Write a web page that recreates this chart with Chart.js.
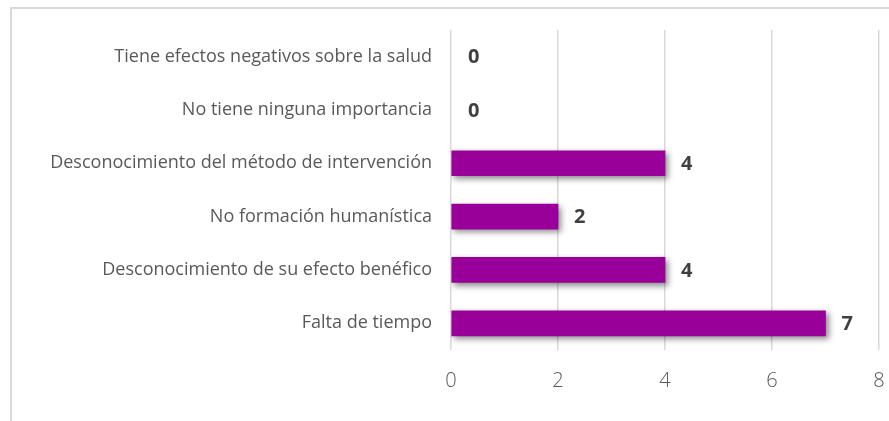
<!DOCTYPE html>
<html lang="es">
<head>
    <meta charset="UTF-8">
    <title>Motivos</title>
    <script src="https://cdn.jsdelivr.net/npm/chart.js"></script>
    <style>
        body {
            margin: 0;
            background-color: #ffffff;
        }
        .marco {
            position: absolute;
            left: 10px;
            top: 7px;
            width: 900px;
            height: 430px;
            border: 2px solid #d9d9d9;
        }
        .grafico {
            position: absolute;
            left: 0;
            top: 0;
            width: 889px;
            height: 421px;
        }
    </style>
</head>
<body>

<div class="marco"></div>
<div class="grafico">
    <canvas id="motivosChart" width="889" height="421"></canvas>
</div>

<script>
    const categorias = [
        'Tiene efectos negativos sobre la salud',
        'No tiene ninguna importancia',
        'Desconocimiento del método de intervención',
        'No formación humanística',
        'Desconocimiento de su efecto benéfico',
        'Falta de tiempo'
    ];
    const valores = [0, 0, 4, 2, 4, 7];
    const marcasEje = [0, 2, 4, 6, 8];

    // sombra de las barras
    const sombraBarras = {
        id: 'sombraBarras',
        beforeDatasetDraw(chart) {
            const ctx = chart.ctx;
            ctx.save();
            ctx.shadowColor = 'rgba(0, 0, 0, 0.45)';
            ctx.shadowBlur = 6;
            ctx.shadowOffsetX = 3;
            ctx.shadowOffsetY = 3;
        },
        afterDatasetDraw(chart) {
            chart.ctx.restore();
        }
    };

    // etiquetas de valor al final de cada barra
    const etiquetasValor = {
        id: 'etiquetasValor',
        afterDatasetsDraw(chart) {
            const ctx = chart.ctx;
            const meta = chart.getDatasetMeta(0);
            ctx.save();
            ctx.font = 'bold 20px "Open Sans"';
            ctx.fillStyle = '#404040';
            ctx.textAlign = 'left';
            ctx.textBaseline = 'middle';
            meta.data.forEach((barra, i) => {
                if (valores[i] === 0) {
                    ctx.fillText(String(valores[i]), barra.x + 17, barra.y + 1);
                } else {
                    ctx.fillText(String(valores[i]), barra.x + 16, barra.y + 1);
                }
            });
            ctx.restore();
        }
    };

    const ctx = document.getElementById('motivosChart').getContext('2d');
    new Chart(ctx, {
        type: 'bar',
        data: {
            labels: categorias,
            datasets: [{
                data: valores,
                // sin barra visible (ni sombra) cuando el valor es 0
                backgroundColor: c => (c.raw === 0 ? 'rgba(0,0,0,0)' : '#990099'),
                borderWidth: 0,
                barThickness: 25
            }]
        },
        options: {
            indexAxis: 'y',
            responsive: false,
            animation: false,
            layout: {
                padding: { top: 22, right: 10, left: 0, bottom: 0 }
            },
            plugins: {
                legend: { display: false },
                tooltip: { enabled: false }
            },
            scales: {
                x: {
                    min: 0,
                    max: 8,
                    afterBuildTicks(scale) {
                        scale.ticks = marcasEje.map(v => ({ value: v }));
                    },
                    afterFit(scale) {
                        scale.height = 71;
                        scale.paddingLeft = 0;
                        scale.paddingRight = 0;
                    },
                    grid: {
                        color: '#d9d9d9',
                        lineWidth: 1.5,
                        drawTicks: false
                    },
                    border: { display: false },
                    ticks: {
                        color: '#595959',
                        padding: 19,
                        font: { family: 'Open Sans', size: 20, weight: '300' }
                    }
                },
                y: {
                    afterFit(scale) {
                        scale.width = 451;
                    },
                    grid: { display: false, drawTicks: false },
                    border: { display: false },
                    ticks: {
                        color: '#595959',
                        padding: 19,
                        font: { family: 'Open Sans', size: 18 }
                    }
                }
            }
        },
        plugins: [sombraBarras, etiquetasValor]
    });
</script>

</body>
</html>
